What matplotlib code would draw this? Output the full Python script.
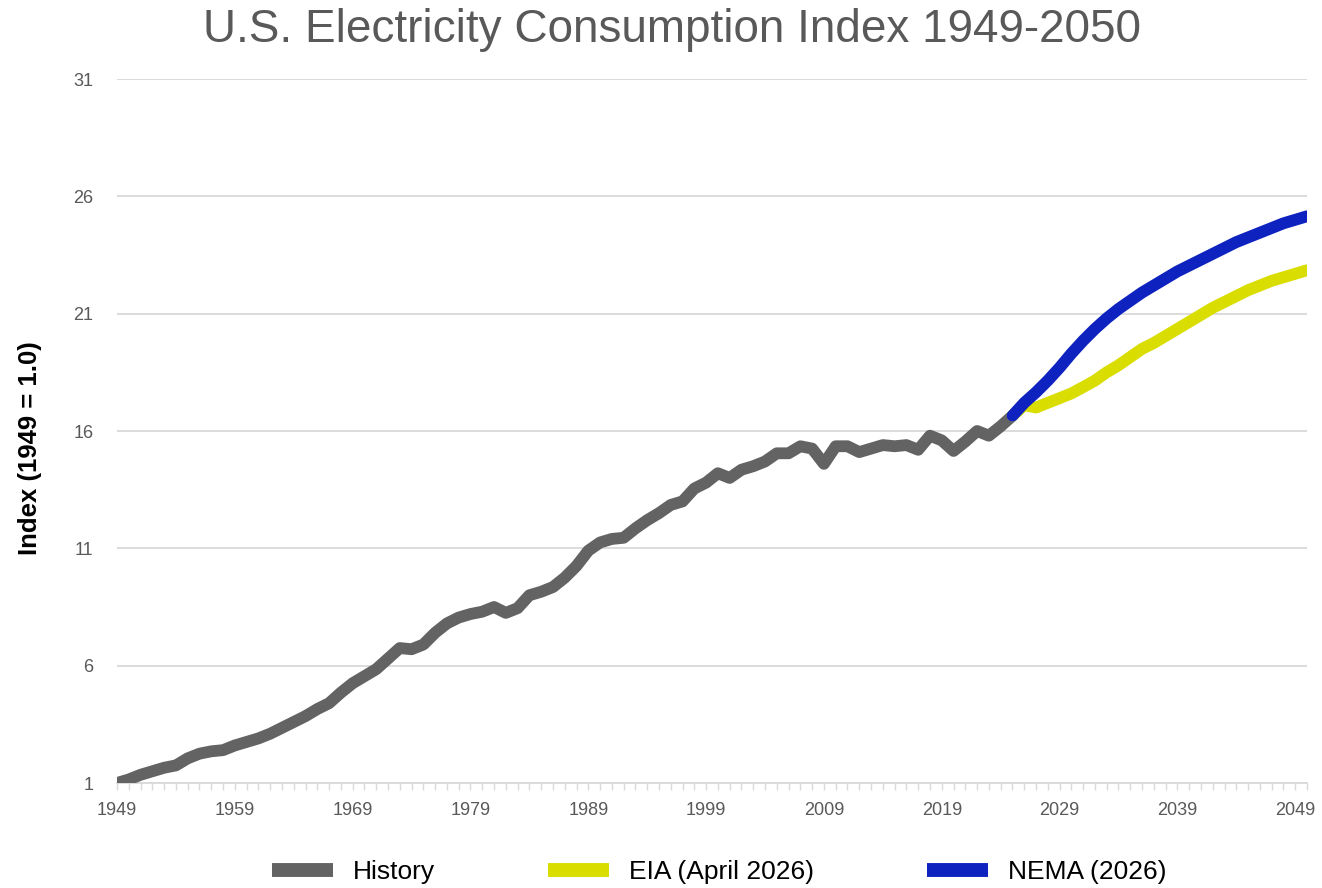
import matplotlib
matplotlib.use("Agg")
import matplotlib.pyplot as plt
from matplotlib.ticker import FixedLocator, MultipleLocator

# ---- data ----
hist_years = list(range(1949, 2026))
hist_values = [1.0, 1.15, 1.35, 1.5, 1.65, 1.75, 2.05, 2.25, 2.35, 2.4,
               2.6, 2.75, 2.9, 3.1, 3.35, 3.6, 3.85, 4.15, 4.4, 4.85,
               5.25, 5.55, 5.85, 6.3, 6.75, 6.7, 6.9, 7.4, 7.8, 8.05,
               8.2, 8.3, 8.5, 8.25, 8.45, 9.0, 9.15, 9.35, 9.75, 10.25,
               10.9, 11.25, 11.4, 11.45, 11.85, 12.2, 12.5, 12.85, 13.0, 13.55,
               13.8, 14.2, 14.0, 14.35, 14.5, 14.7, 15.05, 15.05, 15.35, 15.25,
               14.6, 15.35, 15.35, 15.1, 15.25, 15.4, 15.35, 15.4, 15.2, 15.8,
               15.6, 15.15, 15.55, 16.0, 15.8, 16.2, 16.65]

fc_years = list(range(2025, 2051))
eia_values = [16.65, 17.1, 17.0, 17.2, 17.4, 17.6, 17.87, 18.15, 18.5, 18.8,
              19.15, 19.5, 19.75, 20.05, 20.35, 20.65, 20.95, 21.25, 21.5, 21.75,
              22.0, 22.2, 22.4, 22.55, 22.7, 22.85]
nema_values = [16.65, 17.2, 17.65, 18.15, 18.7, 19.3, 19.85, 20.35, 20.8, 21.2,
               21.55, 21.9, 22.2, 22.5, 22.8, 23.05, 23.3, 23.55, 23.8, 24.05,
               24.25, 24.45, 24.65, 24.85, 25.0, 25.15]

series_labels = ["History", "EIA (April 2026)", "NEMA (2026)"]
series_colors = ["#636363", "#D9DD00", "#0E22C0"]

title = "U.S. Electricity Consumption Index 1949-2050"
ylabel = "Index (1949 = 1.0)"
yticks = [1, 6, 11, 16, 21, 26, 31]
xticks = [1949, 1959, 1969, 1979, 1989, 1999, 2009, 2019, 2029, 2039, 2049]

# ---- figure ----
W, H = 1322, 888
fig = plt.figure(figsize=(W / 100, H / 100), dpi=100)
ax = fig.add_axes([117 / W, 1 - 783 / H, (1307 - 117) / W, (783 - 79) / H])

font = "Liberation Sans"
lw = 8.5

l1, = ax.plot(hist_years, hist_values, color=series_colors[0], lw=lw,
              solid_capstyle="butt", solid_joinstyle="round", label=series_labels[0], zorder=3)
l2, = ax.plot(fc_years, eia_values, color=series_colors[1], lw=lw,
              solid_capstyle="round", solid_joinstyle="round", label=series_labels[1], zorder=4)
l3, = ax.plot(fc_years, nema_values, color=series_colors[2], lw=lw,
              solid_capstyle="round", solid_joinstyle="round", label=series_labels[2], zorder=5)

ax.set_xlim(1949, 2050)
ax.set_ylim(1, 31)
ax.yaxis.set_major_locator(FixedLocator(yticks))
ax.xaxis.set_major_locator(FixedLocator(xticks))
ax.xaxis.set_minor_locator(MultipleLocator(1))
ax.grid(axis="y", color="#D9D9D9", lw=1.3, zorder=0)
ax.set_axisbelow(True)

for s in ["top", "right", "left"]:
    ax.spines[s].set_visible(False)
ax.spines["bottom"].set_color("#D9D9D9")
ax.spines["bottom"].set_linewidth(1.3)

ax.tick_params(axis="y", length=0, pad=17, labelsize=13, labelcolor="#595959")
ax.tick_params(axis="x", which="both", direction="out", length=5, width=1,
               color="#D9D9D9", labelsize=13, labelcolor="#595959", pad=9)
ax.tick_params(axis="x", which="minor", labelbottom=False)
for lab in ax.get_xticklabels() + ax.get_yticklabels():
    lab.set_fontfamily(font)

fig.text(672 / W, 1 - 30 / H, title, ha="center", va="center",
         fontsize=33, color="#595959", fontfamily=font)
fig.text(30 / W, 1 - 448 / H, ylabel, ha="center", va="center", rotation=90,
         fontsize=18.5, fontweight="bold", color="black", fontfamily=font)

leg = fig.legend(handles=[l1, l2, l3], loc="center", bbox_to_anchor=(719 / W, 1 - 872 / H),
                 ncol=3, frameon=False, handlelength=2.3, handletextpad=0.75,
                 columnspacing=4.3, prop={"family": font, "size": 19})
for h in leg.legend_handles:
    h.set_linewidth(10)
    h.set_solid_capstyle("butt")

fig.savefig("out.png", dpi=100)
